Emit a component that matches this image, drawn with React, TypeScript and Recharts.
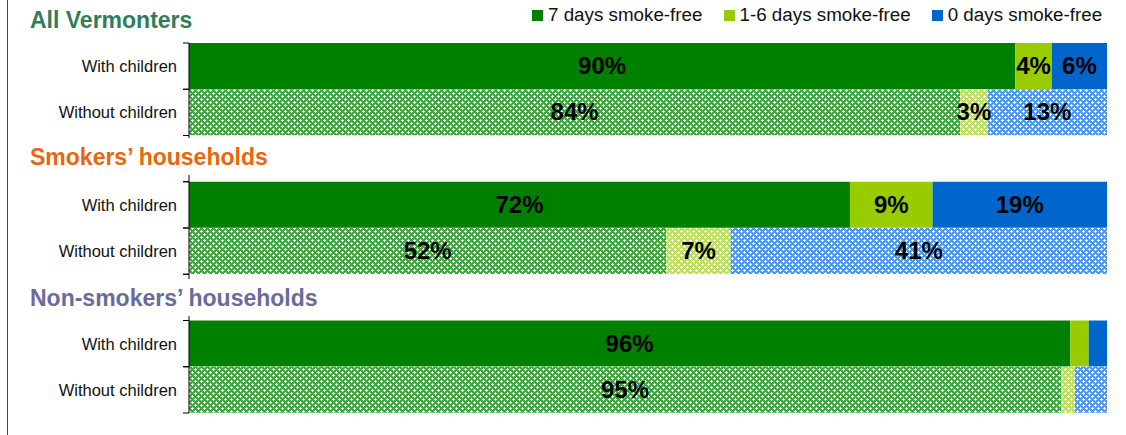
import { BarChart, Bar, XAxis, YAxis, Cell, LabelList } from "recharts";

const groupTitles = ["All Vermonters", "Smokers’ households", "Non-smokers’ households"];
const rowLabels = ["With children", "Without children"];
const seriesNames = ["7 days smoke-free", "1-6 days smoke-free", "0 days smoke-free"];

// per group: with children, without children
const sevenDays = [90, 84, 72, 52, 96, 95];
const someDays = [4, 3, 9, 7, 2, 1.5];
const zeroDays = [6, 13, 19, 41, 2, 3.5];
// the small segments of the last group carry no label
const labelMinor = [true, true, false];

const FONT = '"Liberation Sans", Arial, sans-serif';
const WIDTH = 1126;
const HEIGHT = 435;
const AXIS_X = 189;
const TOP = 43;
const BOTTOM = 22;

const solid = ["#008000", "#99cc00", "#0066cc"];
const hatchBase = ["#46a346", "#c0de64", "#5398e2"];
const titleColors = ["#2f7d5c", "#e8670c", "#6a6a9c"];
const titleBaselines = [28, 165, 306];

const keys = ["s7", "s16", "s0"];

type Row = { key: string; label: string; hatched: boolean; [k: string]: any };

const rows: Row[] = [];
groupTitles.forEach((_, g) => {
  if (g > 0) rows.push({ key: `h${g}`, label: "", hatched: false });
  rowLabels.forEach((label, r) => {
    const i = g * 2 + r;
    const vals = [sevenDays[i], someDays[i], zeroDays[i]];
    const row: Row = { key: `g${g}r${r}`, label, hatched: r === 1 };
    keys.forEach((k, s) => {
      row[k] = vals[s];
      row[`${k}_lbl`] = s === 0 || labelMinor[g] ? `${vals[s]}%` : "";
    });
    rows.push(row);
  });
});

const BAND = (HEIGHT - TOP - BOTTOM) / rows.length;

function RowTick(props: any) {
  const { y, payload } = props;
  const row = rows.find((r) => r.key === payload.value);
  return (
    <g>
      {row && row.label && (
        <text
          x={AXIS_X - 12}
          y={y}
          dy={6}
          textAnchor="end"
          fontSize={16.5}
          fontFamily={FONT}
          fill="#111"
        >
          {row.label}
        </text>
      )}
      <line x1={AXIS_X - 6} x2={AXIS_X} y1={y - BAND / 2} y2={y - BAND / 2} stroke="#000" />
      <line x1={AXIS_X - 6} x2={AXIS_X} y1={y + BAND / 2} y2={y + BAND / 2} stroke="#000" />
    </g>
  );
}

function PctLabel(props: any) {
  const { x, y, width, height, value } = props;
  if (!value) return null;
  return (
    <text
      x={x + width / 2}
      y={y + height / 2}
      dy={8}
      textAnchor="middle"
      fontSize={24}
      fontWeight="bold"
      fontFamily={FONT}
      fill="#000"
    >
      {value}
    </text>
  );
}

export default function App() {
  return (
    <div
      style={{
        position: "absolute",
        left: 0,
        top: 0,
        width: WIDTH,
        height: HEIGHT,
        fontFamily: FONT,
        background: "#fff",
        overflow: "hidden",
      }}
    >
      <div
        style={{
          position: "absolute",
          left: 7,
          top: 0,
          width: 1,
          height: HEIGHT,
          background: "#444",
        }}
      />
      <div style={{ position: "absolute", left: 0, top: 0 }}>
        <BarChart
          width={WIDTH}
          height={HEIGHT}
          data={rows}
          layout="vertical"
          margin={{ top: TOP, right: 19, bottom: BOTTOM, left: 0 }}
          barCategoryGap={0}
          barGap={0}
        >
          <defs>
            {hatchBase.map((c, i) => (
              <pattern
                key={i}
                id={`hatch-${i}`}
                width={6}
                height={6}
                patternUnits="userSpaceOnUse"
              >
                <rect width={6} height={6} fill={c} />
                <rect x={3} y={2} width={1} height={3} fill="#fff" />
                <rect x={2} y={3} width={3} height={1} fill="#fff" />
                <rect x={0} y={0} width={2} height={1} fill="#fff" />
                <rect x={5} y={0} width={1} height={1} fill="#fff" />
                <rect x={0} y={1} width={1} height={1} fill="#fff" />
                <rect x={0} y={5} width={1} height={1} fill="#fff" />
              </pattern>
            ))}
          </defs>
          <XAxis type="number" domain={[0, 100]} hide />
          <YAxis
            type="category"
            dataKey="key"
            width={AXIS_X}
            axisLine={{ stroke: "#000" }}
            tickLine={false}
            tick={<RowTick />}
            interval={0}
          />
          {keys.map((k, i) => (
            <Bar key={k} dataKey={k} stackId="a" isAnimationActive={false}>
              {rows.map((r) => (
                <Cell key={r.key} fill={r.hatched ? `url(#hatch-${i})` : solid[i]} />
              ))}
              <LabelList dataKey={`${k}_lbl`} content={<PctLabel />} />
            </Bar>
          ))}
        </BarChart>
      </div>

      {groupTitles.map((t, g) => (
        <div
          key={t}
          style={{
            position: "absolute",
            left: 30,
            top: titleBaselines[g] - 21 - 6,
            padding: "6px 6px 5px 0",
            background: "#fff",
            color: titleColors[g],
            fontSize: 23,
            fontWeight: "bold",
            lineHeight: "26px",
            whiteSpace: "nowrap",
          }}
        >
          {t}
        </div>
      ))}

      <div
        style={{
          position: "absolute",
          left: 532,
          top: 4,
          display: "flex",
          alignItems: "center",
          gap: 21,
          fontSize: 18.8,
          lineHeight: "22px",
          color: "#111",
          whiteSpace: "nowrap",
        }}
      >
        {seriesNames.map((n, i) => (
          <div key={n} style={{ display: "flex", alignItems: "center" }}>
            <span
              style={{
                display: "inline-block",
                width: 11,
                height: 11,
                background: solid[i],
                marginRight: 5,
              }}
            />
            {n}
          </div>
        ))}
      </div>
    </div>
  );
}
